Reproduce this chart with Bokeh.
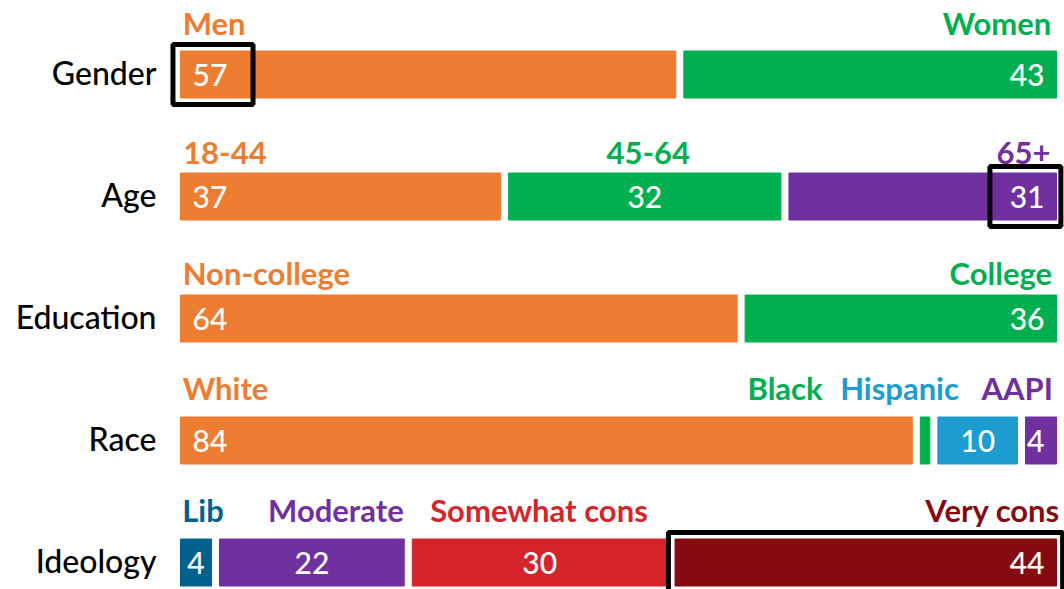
from bokeh.plotting import figure
from bokeh.models import ColumnDataSource, Range1d
from bokeh.core.properties import value
from bokeh.embed import file_html
from bokeh.resources import INLINE

# ---------------- data ----------------
rows = ["Gender", "Age", "Education", "Race", "Ideology"]

gender_labels = ["Men", "Women"]
gender_values = [57, 43]
age_labels = ["18-44", "45-64", "65+"]
age_values = [37, 32, 31]
edu_labels = ["Non-college", "College"]
edu_values = [64, 36]
race_labels = ["White", "Black", "Hispanic", "AAPI"]
race_values = [84, 2, 10, 4]
ideo_labels = ["Lib", "Moderate", "Somewhat cons", "Very cons"]
ideo_values = [4, 22, 30, 44]

# ---------------- styling / layout ----------------
ORANGE = "#ED7D31"
GREEN = "#00B050"
PURPLE = "#7030A0"
BLUE = "#1C9CD0"
NAVY = "#00628C"
RED = "#D6252A"
DARKRED = "#840C10"

gender_colors = [ORANGE, GREEN]
age_colors = [ORANGE, GREEN, PURPLE]
edu_colors = [ORANGE, GREEN]
race_colors = [ORANGE, GREEN, BLUE, PURPLE]
ideo_colors = [NAVY, PURPLE, RED, DARKRED]

# category-label anchors (in value units) and alignment
gender_lx, gender_la = [0.25, 99.4], ["left", "right"]
age_lx, age_la = [0.3, 53.4, 99.3], ["left", "center", "right"]
edu_lx, edu_la = [0.25, 99.5], ["left", "right"]
race_lx, race_la = [0.25, 73.3, 75.3, 99.6], ["left", "right", "left", "right"]
ideo_lx, ideo_la = [0.2, 10.0, 28.5, 100.4], ["left", "left", "left", "right"]
label_dy = [-41, -33, -35, -42, -41.5]  # px, baseline relative to bar centre

# highlight boxes: row index, x start, x end (value units)
highlight_row = [0, 1, 4]
highlight_x0 = [-0.86, 92.4, 55.7]
highlight_x1 = [8.28, 100.5, 100.7]

groups = [
    (gender_labels, gender_values, gender_colors, gender_lx, gender_la),
    (age_labels, age_values, age_colors, age_lx, age_la),
    (edu_labels, edu_values, edu_colors, edu_lx, edu_la),
    (race_labels, race_values, race_colors, race_lx, race_la),
    (ideo_labels, ideo_values, ideo_colors, ideo_lx, ideo_la),
]

PX = 8.76          # px per value unit
ROW = 122.0        # px per row
W, H = 1064, 589
X0 = 180           # px position of value 0 inside the figure
Y0 = 74            # px position of first row centre
GAP = 8 / PX
BAR_H = 47 / ROW
BASE_FIX = -11     # baseline correction (px)
FONT_MED = "'Lato Medium', Lato"
FONT_BOLD = "Lato"

bars = dict(left=[], right=[], y=[], color=[])
vals = dict(x=[], y=[], text=[], align=[], xoff=[])
labs = dict(x=[], y=[], text=[], align=[], color=[], yoff=[])

for r, (labels, values, colors, lx, la) in enumerate(groups):
    start = 0
    n = len(values)
    for i, (lab, v, c) in enumerate(zip(labels, values, colors)):
        end = start + v
        left = start + (GAP / 2 if i > 0 else 0)
        right = end - (GAP / 2 if i < n - 1 else 0)
        bars["left"].append(left)
        bars["right"].append(right)
        bars["y"].append(r)
        bars["color"].append(c)
        if v >= 3:
            if i == n - 1:
                vals["x"].append(right); vals["align"].append("right"); vals["xoff"].append(-12)
            elif i == 0 and v >= 6:
                vals["x"].append(left); vals["align"].append("left"); vals["xoff"].append(12)
            else:
                vals["x"].append((left + right) / 2); vals["align"].append("center"); vals["xoff"].append(0)
            vals["y"].append(r)
            vals["text"].append(str(v))
        labs["x"].append(lx[i])
        labs["y"].append(r)
        labs["text"].append(lab)
        labs["align"].append(la[i])
        labs["color"].append(c)
        labs["yoff"].append(label_dy[r] + BASE_FIX)
        start = end

p = figure(width=W, height=H, output_backend="svg", toolbar_location=None,
           x_range=Range1d(-X0 / PX, (W - X0) / PX),
           y_range=Range1d((H - Y0) / ROW, -Y0 / ROW),
           min_border=0)
p.axis.visible = False
p.grid.visible = False
p.outline_line_color = None
p.background_fill_color = "white"

p.hbar(y="y", left="left", right="right", height=BAR_H, color="color",
       source=ColumnDataSource(bars))

p.text(x="x", y="y", text="text", text_align="align", x_offset="xoff", y_offset=11 + BASE_FIX,
       text_baseline="alphabetic", text_color="white", text_font=value(FONT_MED),
       text_font_size="30px", source=ColumnDataSource(vals))

p.text(x="x", y="y", text="text", text_align="align", y_offset="yoff",
       text_baseline="alphabetic", text_color="color", text_font=value(FONT_BOLD),
       text_font_style="bold", text_font_size="31px", source=ColumnDataSource(labs))

p.text(x=[-24 / PX] * len(rows), y=list(range(len(rows))), text=rows,
       text_align="right", text_baseline="alphabetic", y_offset=9 + BASE_FIX,
       text_color="black", text_font=value(FONT_MED), text_font_size="32px")

box_h = 60 / ROW
p.rect(x=[(a + b) / 2 for a, b in zip(highlight_x0, highlight_x1)],
       y=highlight_row,
       width=[b - a for a, b in zip(highlight_x0, highlight_x1)],
       height=box_h, fill_color=None, line_color="black", line_width=5)

open("out.html", "w").write(file_html(p, INLINE))
